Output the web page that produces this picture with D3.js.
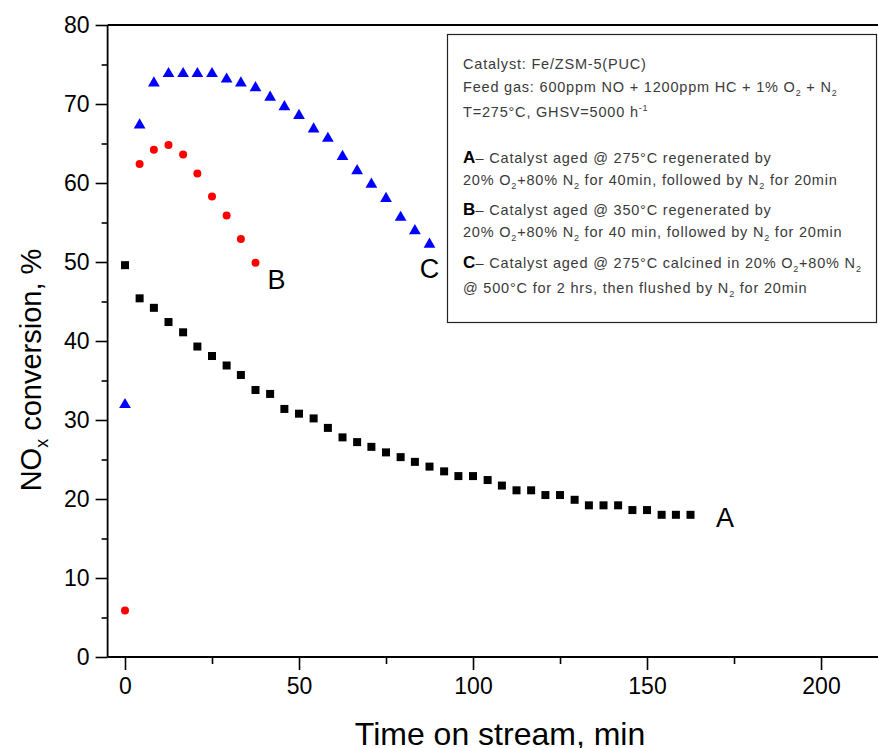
<!DOCTYPE html>
<html>
<head>
<meta charset="utf-8">
<script src="https://cdn.jsdelivr.net/npm/d3@7"></script>
<style>
  html, body { margin: 0; padding: 0; background: #fff; }
  svg { display: block; }
</style>
</head>
<body>
<svg id="chart" width="878" height="748"></svg>
<script>
// ---------------- data ----------------
const timeA = [0, 4.2, 8.3, 12.5, 16.7, 20.8, 25, 29.2, 33.3, 37.5, 41.7, 45.8, 50, 54.2, 58.3, 62.5, 66.7, 70.8, 75, 79.2,
               83.3, 87.5, 91.7, 95.8, 100, 104.2, 108.3, 112.5, 116.7, 120.8, 125, 129.2, 133.3, 137.5, 141.7, 145.8, 150, 154.2, 158.3, 162.5];
const seriesA = [49.6, 45.4, 44.2, 42.4, 41.1, 39.3, 38.1, 36.9, 35.7, 33.8, 33.3, 31.4, 30.8, 30.2, 29.0, 27.8, 27.2, 26.6, 25.9, 25.3,
                 24.7, 24.1, 23.5, 22.9, 22.9, 22.4, 21.7, 21.1, 21.1, 20.5, 20.5, 19.9, 19.2, 19.2, 19.2, 18.6, 18.6, 18.0, 18.0, 18.0];
const timeB = [0, 4.2, 8.3, 12.5, 16.7, 20.8, 25, 29.2, 33.3, 37.5];
const seriesB = [5.9, 62.4, 64.2, 64.8, 63.6, 61.2, 58.3, 55.9, 52.9, 49.9];
const timeC = [0, 4.2, 8.3, 12.5, 16.7, 20.8, 25, 29.2, 33.3, 37.5, 41.7, 45.8, 50, 54.2, 58.3, 62.5, 66.7, 70.8, 75, 79.2, 83.3, 87.5];
const seriesC = [32.0, 67.4, 72.7, 73.9, 73.9, 73.9, 73.9, 73.2, 72.7, 72.1, 70.9, 69.7, 68.6, 66.9, 65.7, 63.4, 61.6, 59.9, 58.1, 55.7, 54.0, 52.3];

const xTicks = [0, 50, 100, 150, 200];
const xMinorTicks = [25, 75, 125, 175];
const yTicks = [0, 10, 20, 30, 40, 50, 60, 70, 80];
const yMinorTicks = [5, 15, 25, 35, 45, 55, 65, 75];

const curveLabels = [
  { name: "A", t: 172.4, v: 16.5 },
  { name: "B", t: 43.5, v: 46.6 },
  { name: "C", t: 87.5, v: 48.0 }
];

const xTitle = "Time on stream, min";
const yTitle = [["NO", "n"], ["x", "sub"], [" conversion, %", "n"]];

const noteLines = [
  [["Catalyst: Fe/ZSM-5(PUC)", "n"]],
  [["Feed gas: 600ppm NO + 1200ppm HC + 1% O", "n"], ["2", "sub"], [" + N", "n"], ["2", "sub"]],
  [["T=275°C, GHSV=5000 h", "n"], ["-1", "sup"]],
  [["A", "b"], ["– Catalyst aged @ 275°C regenerated by", "n"]],
  [["20% O", "n"], ["2", "sub"], ["+80% N", "n"], ["2", "sub"], [" for 40min, followed by N", "n"], ["2", "sub"], [" for 20min", "n"]],
  [["B", "b"], ["– Catalyst aged @ 350°C regenerated by", "n"]],
  [["20% O", "n"], ["2", "sub"], ["+80% N", "n"], ["2", "sub"], [" for 40 min, followed by N", "n"], ["2", "sub"], [" for 20min", "n"]],
  [["C", "b"], ["– Catalyst aged @ 275°C calcined in 20% O", "n"], ["2", "sub"], ["+80% N", "n"], ["2", "sub"]],
  [["@ 500°C for 2 hrs, then flushed by N", "n"], ["2", "sub"], [" for 20min", "n"]]
];
const noteBaselines = [69, 92, 117, 163, 185, 215, 237, 268, 293];

// ---------------- drawing ----------------
const svg = d3.select("#chart");
const font = "Arial, 'Liberation Sans', Helvetica, sans-serif";

svg.append("rect").attr("width", 878).attr("height", 748).attr("fill", "#fff");

const x = d3.scaleLinear().domain([-5, 216]).range([107.6, 876.7]);
const y = d3.scaleLinear().domain([0, 80]).range([657, 25]);

svg.append("line")
  .attr("x1", x(-5)).attr("x2", 878).attr("y1", y(80)).attr("y2", y(80))
  .attr("stroke", "#000").attr("stroke-width", 1.8);

const yAxis = svg.append("g").attr("transform", `translate(${x(-5)},0)`)
  .call(d3.axisLeft(y).tickValues(yTicks).tickSize(12).tickPadding(6).tickFormat(d3.format("d")));
svg.append("g").attr("transform", `translate(${x(-5)},0)`)
  .call(d3.axisLeft(y).tickValues(yMinorTicks).tickSize(6).tickFormat(""))
  .call(g => g.select(".domain").remove());

const xAxis = svg.append("g").attr("transform", `translate(0,${y(0)})`)
  .call(d3.axisBottom(x).tickValues(xTicks).tickSize(13).tickPadding(8).tickFormat(d3.format("d")));
svg.append("g").attr("transform", `translate(0,${y(0)})`)
  .call(d3.axisBottom(x).tickValues(xMinorTicks).tickSize(7).tickFormat(""))
  .call(g => g.select(".domain").remove());

svg.selectAll(".tick line").attr("stroke", "#000").attr("stroke-width", 1.6);
svg.selectAll(".domain").attr("stroke", "#000").attr("stroke-width", 1.8);
svg.selectAll(".tick text").attr("font-family", font).attr("font-size", 23).attr("fill", "#000");
xAxis.select(".domain").attr("d", `M${x(-5)},0H878`);
yAxis.select(".domain").attr("d", `M0,${y(80)}V${y(0)}`);

svg.append("text")
  .attr("x", 500).attr("y", 745)
  .attr("text-anchor", "middle")
  .attr("font-family", font).attr("font-size", 32).attr("fill", "#000")
  .text(xTitle);

const yt = svg.append("text")
  .attr("transform", `translate(41,${370}) rotate(-90)`)
  .attr("text-anchor", "middle")
  .attr("font-family", font).attr("font-size", 29).attr("fill", "#000");
yTitle.forEach(([t, s]) => {
  const ts = yt.append("tspan").text(t);
  if (s === "sub") ts.attr("font-size", 18).attr("dy", 7);
  else if (ts.node().previousSibling) ts.attr("dy", -7);
});

const sq = 8;
svg.append("g").selectAll("rect")
  .data(timeA.map((t, i) => [t, seriesA[i]]))
  .join("rect")
  .attr("x", d => x(d[0]) - sq / 2).attr("y", d => y(d[1]) - sq / 2)
  .attr("width", sq).attr("height", sq)
  .attr("fill", "#000");

svg.append("g").selectAll("circle")
  .data(timeB.map((t, i) => [t, seriesB[i]]))
  .join("circle")
  .attr("cx", d => x(d[0])).attr("cy", d => y(d[1])).attr("r", 4)
  .attr("fill", "#ff0000");

const tri = d3.symbol().type(d3.symbolTriangle).size(60);
svg.append("g").selectAll("path")
  .data(timeC.map((t, i) => [t, seriesC[i]]))
  .join("path")
  .attr("d", tri)
  .attr("transform", d => `translate(${x(d[0])},${y(d[1]) + 0.5})`)
  .attr("fill", "#0000ff");

svg.append("g").selectAll("text")
  .data(curveLabels)
  .join("text")
  .attr("x", d => x(d.t)).attr("y", d => y(d.v))
  .attr("text-anchor", "middle")
  .attr("font-family", font).attr("font-size", 27).attr("fill", "#000")
  .text(d => d.name);

svg.append("rect")
  .attr("x", 447.5).attr("y", 34.5).attr("width", 429).attr("height", 288)
  .attr("fill", "#fff").attr("stroke", "#222").attr("stroke-width", 1.2);

noteLines.forEach((segs, i) => {
  const t = svg.append("text")
    .attr("x", 463).attr("y", noteBaselines[i])
    .attr("font-family", font).attr("font-size", 14.5).attr("fill", "#3a3a3a")
    .attr("letter-spacing", 0.8);
  let shift = 0;
  segs.forEach(([txt, s]) => {
    const ts = t.append("tspan").text(txt);
    let target = 0;
    if (s === "sub") { ts.attr("font-size", 9); target = 4; }
    else if (s === "sup") { ts.attr("font-size", 9); target = -6; }
    else if (s === "b") { ts.attr("font-size", 17).attr("font-weight", "bold").attr("fill", "#000").attr("letter-spacing", 0.3); }
    if (target !== shift) { ts.attr("dy", target - shift); shift = target; }
  });
});
</script>
</body>
</html>
